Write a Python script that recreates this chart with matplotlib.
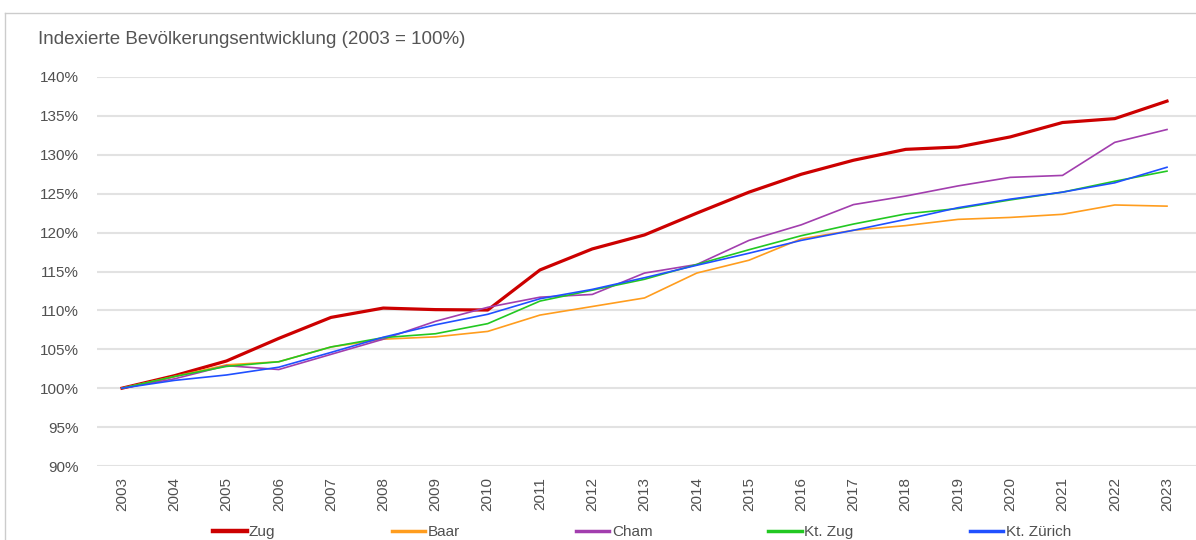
import matplotlib.pyplot as plt
from matplotlib.lines import Line2D

plt.rcParams['font.family'] = ['Liberation Sans', 'DejaVu Sans']

years = list(range(2003, 2024))

zug = [100.0, 101.6, 103.5, 106.4, 109.1, 110.3, 110.1, 110.05, 115.2, 117.9, 119.7,
       122.5, 125.2, 127.5, 129.3, 130.7, 131.0, 132.3, 134.15, 134.65, 136.9]
baar = [100.0, 101.5, 103.0, 103.4, 105.3, 106.3, 106.6, 107.3, 109.4, 110.5, 111.6,
        114.8, 116.45, 119.2, 120.3, 120.9, 121.7, 121.95, 122.35, 123.55, 123.4]
cham = [100.0, 101.2, 102.9, 102.4, 104.35, 106.3, 108.6, 110.4, 111.7, 112.05, 114.8,
        115.9, 119.0, 121.0, 123.6, 124.7, 126.0, 127.1, 127.35, 131.6, 133.25]
kt_zug = [100.0, 101.5, 102.8, 103.4, 105.3, 106.5, 107.0, 108.3, 111.2, 112.6, 114.0,
          115.9, 117.8, 119.6, 121.1, 122.4, 123.1, 124.2, 125.2, 126.6, 127.9]
kt_zuerich = [100.0, 101.0, 101.7, 102.7, 104.6, 106.55, 108.15, 109.5, 111.5, 112.7, 114.2,
              115.8, 117.35, 119.0, 120.3, 121.7, 123.2, 124.3, 125.2, 126.4, 128.4]

series = [("Zug", zug, "#cc0000", 2.3),
          ("Baar", baar, "#ff9d1e", 1.2),
          ("Cham", cham, "#a23eae", 1.2),
          ("Kt. Zug", kt_zug, "#22c822", 1.2),
          ("Kt. Zürich", kt_zuerich, "#2050ff", 1.2)]

fig = plt.figure(figsize=(11.96, 5.4), dpi=100)
ax = fig.add_axes([97 / 1196, 1 - 466 / 540, 1 - 97 / 1196, (466 - 77) / 540])

for name, vals, col, lw in series:
    ax.plot(years, vals, color=col, lw=lw, label=name, zorder=3)

ax.set_ylim(90, 140)
ax.set_xlim(2003 - 25 / 52.25, 2023 + 29 / 52.25)
ax.set_yticks(range(90, 141, 5))
ax.set_yticklabels([f"{v}%" for v in range(90, 141, 5)])
ax.set_xticks(years)
ax.set_xticklabels([str(y) for y in years], rotation=90)
ax.tick_params(axis='both', length=0, labelsize=11, colors='#505050')
ax.tick_params(axis='y', pad=13)
ax.tick_params(axis='x', pad=8)
ax.grid(axis='y', color='#e2e2e2', lw=1.5)
ax.set_axisbelow(True)
for s in ax.spines.values():
    s.set_visible(False)

handles = [Line2D([], [], color=c, lw=(3.2 if n == "Zug" else 2.5)) for n, v, c, lw in series]
fig.legend(handles, [s[0] for s in series], loc='center', bbox_to_anchor=(642 / 1196, 8 / 540),
           ncol=5, frameon=False, fontsize=11, handlelength=2.2, handletextpad=0.15,
           columnspacing=7.6, labelcolor='#505050')

fig.text(38 / 1196, 1 - 40 / 540, "Indexierte Bevölkerungsentwicklung (2003 = 100%)",
         fontsize=13.5, color='#555555', va='center', ha='left')

# light frame around the chart
fig.add_artist(Line2D([5 / 1196, 1.0], [1 - 13 / 540] * 2, color='#cccccc', lw=1))
fig.add_artist(Line2D([5 / 1196] * 2, [0, 1 - 13 / 540], color='#cccccc', lw=1))

fig.savefig("out.png", dpi=100)
